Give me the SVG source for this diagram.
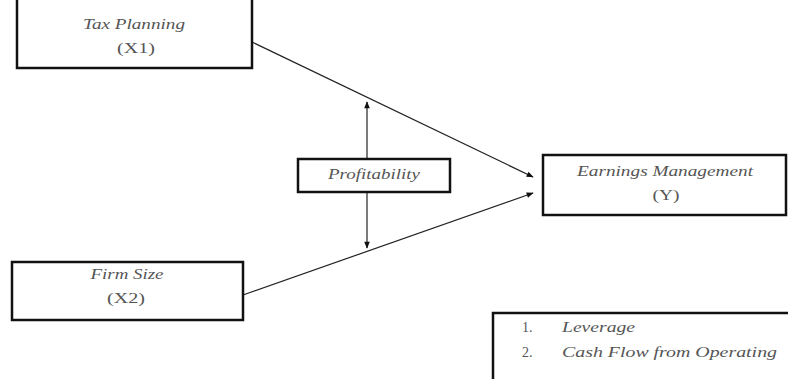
<svg xmlns="http://www.w3.org/2000/svg" width="788" height="379" viewBox="0 0 788 379">
<style>
.box{fill:#fff;stroke:#111;stroke-width:2.5}
.t{font-family:"Liberation Serif",serif;font-style:italic;font-size:14px;fill:#555;text-anchor:middle}
.n{font-family:"Liberation Serif",serif;font-size:14px;fill:#555;text-anchor:middle}
.l{font-family:"Liberation Serif",serif;font-size:14px;fill:#555}
.c{stroke:#222;stroke-width:1.2;fill:none}
</style>
<defs>
<marker id="ah" viewBox="0 0 10 10" refX="9" refY="5" markerWidth="8" markerHeight="7" orient="auto-start-reverse" markerUnits="userSpaceOnUse">
<path d="M0,1 L10,5 L0,9 z" fill="#111"/>
</marker>
</defs>
<rect width="788" height="379" fill="#fff"/>
<g id="connectors">
<line class="c" x1="252" y1="42" x2="533" y2="177" marker-end="url(#ah)"/>
<line class="c" x1="243" y1="295" x2="533" y2="193" marker-end="url(#ah)"/>
<line class="c" x1="367" y1="102" x2="367" y2="248" marker-start="url(#ah)" marker-end="url(#ah)"/>
</g>
<g id="tax">
<rect class="box" x="17" y="-2" width="235" height="70"/>
<text class="t" x="134" y="29" textLength="102" lengthAdjust="spacingAndGlyphs">Tax Planning</text>
<text class="n" x="136" y="53" textLength="38" lengthAdjust="spacingAndGlyphs">(X1)</text>
</g>
<g id="profit">
<rect class="box" x="298" y="159" width="152" height="33"/>
<text class="t" x="374" y="179" textLength="92" lengthAdjust="spacingAndGlyphs">Profitability</text>
</g>
<g id="earn">
<rect class="box" x="543" y="155" width="243" height="60"/>
<text class="t" x="665" y="176" textLength="176" lengthAdjust="spacingAndGlyphs">Earnings Management</text>
<text class="n" x="666" y="200" textLength="27" lengthAdjust="spacingAndGlyphs">(Y)</text>
</g>
<g id="firm">
<rect class="box" x="12" y="262" width="231" height="58"/>
<text class="t" x="127" y="279" textLength="73" lengthAdjust="spacingAndGlyphs">Firm Size</text>
<text class="n" x="126" y="303" textLength="38" lengthAdjust="spacingAndGlyphs">(X2)</text>
</g>
<g id="controls">
<rect class="box" x="493" y="313" width="300" height="70"/>
<text class="l" x="522" y="332">1.</text>
<text class="l" x="562" y="332" font-style="italic" textLength="73" lengthAdjust="spacingAndGlyphs">Leverage</text>
<text class="l" x="522" y="357">2.</text>
<text class="l" x="562" y="357" font-style="italic" textLength="215" lengthAdjust="spacingAndGlyphs">Cash Flow from Operating</text>
</g>
</svg>
